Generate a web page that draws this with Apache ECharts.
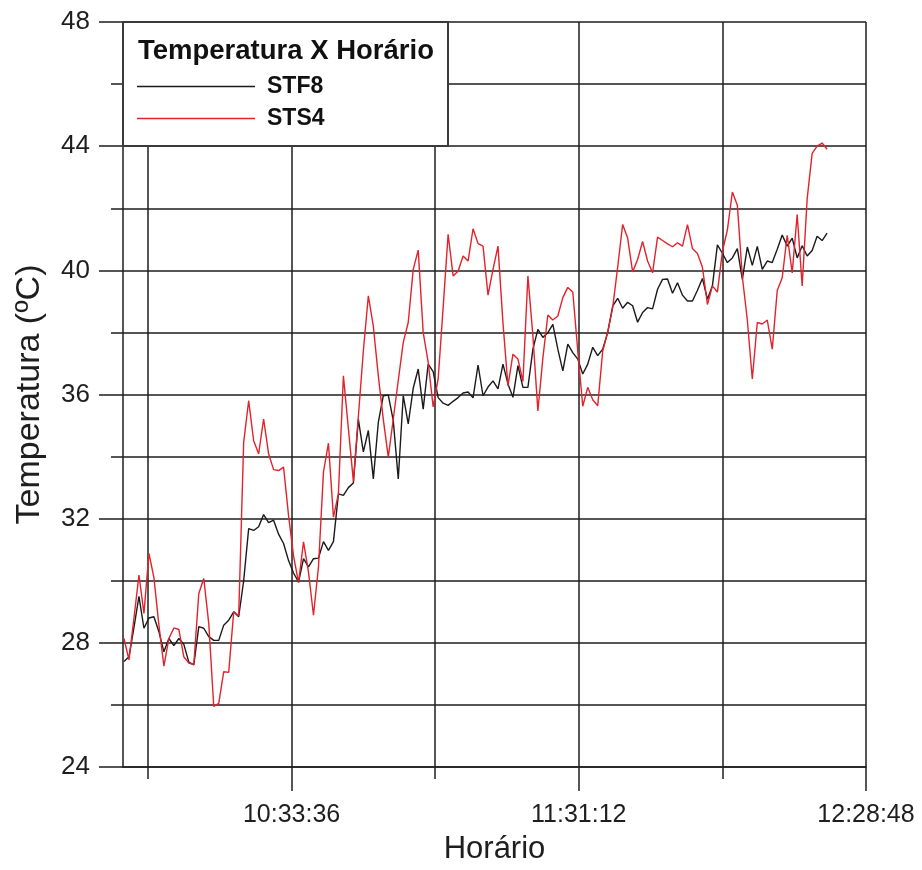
<!DOCTYPE html>
<html>
<head>
<meta charset="utf-8">
<script src="https://cdn.jsdelivr.net/npm/echarts@6/dist/echarts.min.js"></script>
<style>
  html, body { margin: 0; padding: 0; background: #fff; }
  #chart { width: 922px; height: 870px; }
</style>
</head>
<body>
<div id="chart"></div>
<script>
// Sample times (one reading per minute)
const times = [
  '10:00:00','10:01:00','10:02:00','10:03:00','10:04:00','10:05:00','10:06:00','10:07:00','10:08:00','10:09:00',
  '10:10:00','10:11:00','10:12:00','10:13:00','10:14:00','10:15:00','10:16:00','10:17:00','10:18:00','10:19:00',
  '10:20:00','10:21:00','10:22:00','10:23:00','10:24:00','10:25:00','10:26:00','10:27:00','10:28:00','10:29:00',
  '10:30:00','10:31:00','10:32:00','10:33:00','10:34:00','10:35:00','10:36:00','10:37:00','10:38:00','10:39:00',
  '10:40:00','10:41:00','10:42:00','10:43:00','10:44:00','10:45:00','10:46:00','10:47:00','10:48:00','10:49:00',
  '10:50:00','10:51:00','10:52:00','10:53:00','10:54:00','10:55:00','10:56:00','10:57:00','10:58:00','10:59:00',
  '11:00:00','11:01:00','11:02:00','11:03:00','11:04:00','11:05:00','11:06:00','11:07:00','11:08:00','11:09:00',
  '11:10:00','11:11:00','11:12:00','11:13:00','11:14:00','11:15:00','11:16:00','11:17:00','11:18:00','11:19:00',
  '11:20:00','11:21:00','11:22:00','11:23:00','11:24:00','11:25:00','11:26:00','11:27:00','11:28:00','11:29:00',
  '11:30:00','11:31:00','11:32:00','11:33:00','11:34:00','11:35:00','11:36:00','11:37:00','11:38:00','11:39:00',
  '11:40:00','11:41:00','11:42:00','11:43:00','11:44:00','11:45:00','11:46:00','11:47:00','11:48:00','11:49:00',
  '11:50:00','11:51:00','11:52:00','11:53:00','11:54:00','11:55:00','11:56:00','11:57:00','11:58:00','11:59:00',
  '12:00:00','12:01:00','12:02:00','12:03:00','12:04:00','12:05:00','12:06:00','12:07:00','12:08:00','12:09:00',
  '12:10:00','12:11:00','12:12:00','12:13:00','12:14:00','12:15:00','12:16:00','12:17:00','12:18:00','12:19:00',
  '12:20:00','12:21:00'
];

// STF8 temperature (ºC)
const stf8 = [
  27.4, 27.55, 28.5, 29.5, 28.47, 28.8, 28.84, 28.36, 27.71, 28.14,
  27.91, 28.14, 27.95, 27.38, 27.29, 28.52, 28.47, 28.2, 28.08, 28.08,
  28.57, 28.73, 29.0, 28.84, 30.0, 31.68, 31.62, 31.74, 32.13, 31.87,
  31.95, 31.5, 31.2, 30.65, 30.25, 29.96, 30.71, 30.45, 30.71, 30.73,
  31.26, 30.98, 31.26, 32.8, 32.75, 33.0, 33.15, 35.2, 34.15, 34.84,
  33.28, 35.1, 35.96, 35.98, 35.16, 33.28, 35.96, 35.05, 36.2, 36.82,
  35.53, 36.98, 36.74, 35.9, 35.72, 35.65, 35.78, 35.9, 36.05, 36.08,
  35.89, 36.95, 35.96, 36.24, 36.44, 36.18, 36.98, 36.34, 35.91, 36.93,
  36.23, 36.23, 37.46, 38.1, 37.84, 37.99, 38.26, 37.46, 36.76, 37.62,
  37.35, 37.14, 36.66, 36.98, 37.52, 37.25, 37.46, 38.0, 38.85, 39.1,
  38.78, 38.97, 38.86, 38.33, 38.64, 38.8, 38.76, 39.39, 39.71, 39.72,
  39.26, 39.6, 39.2, 39.01, 39.01, 39.36, 39.74, 39.07, 39.5, 40.82,
  40.55, 40.25, 40.4, 40.7, 39.71, 40.75, 40.16, 40.77, 40.03, 40.3,
  40.25, 40.68, 41.14, 40.78, 41.04, 40.4, 40.79, 40.46, 40.64, 41.1,
  40.96, 41.2
];

// STS4 temperature (ºC)
const sts4 = [
  28.14, 27.45, 28.8, 30.18, 28.95, 30.88, 30.1, 28.57, 27.25, 28.14,
  28.48, 28.43, 27.55, 27.35, 27.3, 29.59, 30.07, 28.62, 25.95, 26.05,
  27.07, 27.05, 29.0, 28.87, 34.46, 35.8, 34.51, 34.09, 35.21, 34.09,
  33.58, 33.55, 33.66, 32.1, 30.8, 29.94, 31.25, 30.28, 28.89, 30.45,
  33.5, 34.43, 32.05, 32.8, 36.6, 34.9, 33.2, 35.3, 37.4, 39.18,
  38.2, 36.6, 35.2, 33.98, 35.21, 36.45, 37.68, 38.32, 40.03, 40.65,
  38.0, 37.04, 35.6, 36.5, 38.8, 41.16, 39.82, 39.97, 40.46, 40.3,
  41.34, 40.86, 40.78, 39.2, 40.03, 40.78, 38.3, 36.28, 37.3, 37.14,
  36.42, 39.82, 37.89, 35.47, 37.17, 38.56, 38.4, 38.53, 39.12, 39.45,
  39.3, 37.4, 35.62, 36.23, 35.83, 35.64, 37.4, 38.0, 38.8, 40.1,
  41.48, 41.04, 39.95, 40.35, 40.93, 40.3, 39.92, 41.07, 40.96, 40.85,
  40.76, 40.89, 40.78, 41.47, 40.7, 40.54, 40.1, 38.9, 39.5, 39.3,
  40.6, 41.3, 42.52, 42.1, 39.8, 38.4, 36.5, 38.32, 38.27, 38.4,
  37.46, 39.35, 39.76, 41.13, 39.92, 41.8, 39.5, 42.3, 43.77, 44.0,
  44.1, 43.9
];

// Time axis: range, labelled ticks and grid ticks
const xStart = '09:59:48';
const xEnd = '12:28:48';
const xLabelTimes = ['10:33:36', '11:31:12', '12:28:48'];
const xGridTimes = ['10:04:48', '10:33:36', '11:02:24', '11:31:12', '12:00:00', '12:28:48'];

// Temperature axis
const yMin = 24, yMax = 48, yStep = 4;

function toSec(hms) {
  const p = hms.split(':').map(Number);
  return p[0] * 3600 + p[1] * 60 + p[2];
}
function pad(n) { return (n < 10 ? '0' : '') + n; }
function toHms(sec) {
  sec = Math.round(sec);
  return Math.floor(sec / 3600) + ':' + pad(Math.floor(sec / 60) % 60) + ':' + pad(sec % 60);
}

const FONT = '"Liberation Sans", Arial, Helvetica, sans-serif';
const INK = '#1e1e1e';
const gridStyle = { color: INK, width: 1.5 };

const labelSecs = xLabelTimes.map(toSec);
const gridSecs = xGridTimes.map(toSec);

const chart = echarts.init(document.getElementById('chart'), null, { renderer: 'canvas' });

const option = {
  animation: false,
  backgroundColor: '#ffffff',
  title: {
    text: 'Temperatura X Horário',
    left: 138,
    top: 37,
    padding: 0,
    textStyle: { fontFamily: FONT, fontWeight: 'bold', fontSize: 27.5, color: '#111' },
    z: 12
  },
  legend: {
    data: ['STF8', 'STS4'],
    orient: 'vertical',
    left: 137,
    top: 75,
    padding: 0,
    icon: 'rect',
    itemWidth: 118,
    itemHeight: 1.6,
    itemGap: 9,
    selectedMode: false,
    textStyle: { fontFamily: FONT, fontWeight: 'bold', fontSize: 23, color: '#111', padding: [0, 0, 0, 7] },
    z: 10
  },
  grid: { left: 123, right: 56, top: 22, bottom: 101 },
  xAxis: [
    {
      type: 'value',
      min: toSec(xStart),
      max: toSec(xEnd),
      position: 'bottom',
      name: 'Horário',
      nameLocation: 'middle',
      nameGap: 67,
      nameTextStyle: { fontFamily: FONT, fontSize: 31, color: INK },
      axisLine: { show: true, onZero: false, lineStyle: gridStyle },
      axisTick: { show: true, customValues: labelSecs, length: 24, lineStyle: gridStyle },
      axisLabel: { customValues: labelSecs, formatter: toHms, margin: 36, fontFamily: FONT, fontSize: 25, color: INK },
      splitLine: { show: false }
    },
    {
      type: 'value',
      min: toSec(xStart),
      max: toSec(xEnd),
      position: 'bottom',
      axisLine: { show: false },
      axisTick: { show: true, customValues: gridSecs, length: 12, lineStyle: gridStyle },
      axisLabel: { show: false, customValues: gridSecs },
      splitLine: { show: true, lineStyle: gridStyle }
    }
  ],
  yAxis: {
    type: 'value',
    min: yMin,
    max: yMax,
    interval: yStep,
    name: 'Temperatura (ºC)',
    nameLocation: 'middle',
    nameGap: 76,
    nameTextStyle: { fontFamily: FONT, fontSize: 34, color: INK },
    axisLine: { show: true, onZero: false, lineStyle: gridStyle },
    axisTick: { show: true, length: 24, lineStyle: gridStyle },
    minorTick: { show: true, splitNumber: 2, length: 12, lineStyle: gridStyle },
    axisLabel: { margin: 33, fontFamily: FONT, fontSize: 26, color: INK },
    splitLine: { show: true, lineStyle: gridStyle },
    minorSplitLine: { show: true, lineStyle: gridStyle }
  },
  graphic: [
    {
      type: 'rect',
      shape: { x: 123, y: 22, width: 325, height: 124 },
      style: { fill: '#ffffff', stroke: '#3a3a3a', lineWidth: 2 },
      z: 5
    }
  ],
  series: [
    {
      name: 'STF8',
      type: 'line',
      xAxisIndex: 0,
      symbol: 'none',
      data: times.map((t, i) => [toSec(t), stf8[i]]),
      lineStyle: { color: '#1a1a1a', width: 1.4 },
      itemStyle: { color: '#1a1a1a' },
      z: 3
    },
    {
      name: 'STS4',
      type: 'line',
      xAxisIndex: 0,
      symbol: 'none',
      data: times.map((t, i) => [toSec(t), sts4[i]]),
      lineStyle: { color: '#e3222b', width: 1.4 },
      itemStyle: { color: '#e3222b' },
      z: 4
    }
  ]
};

chart.setOption(option);
</script>
</body>
</html>
